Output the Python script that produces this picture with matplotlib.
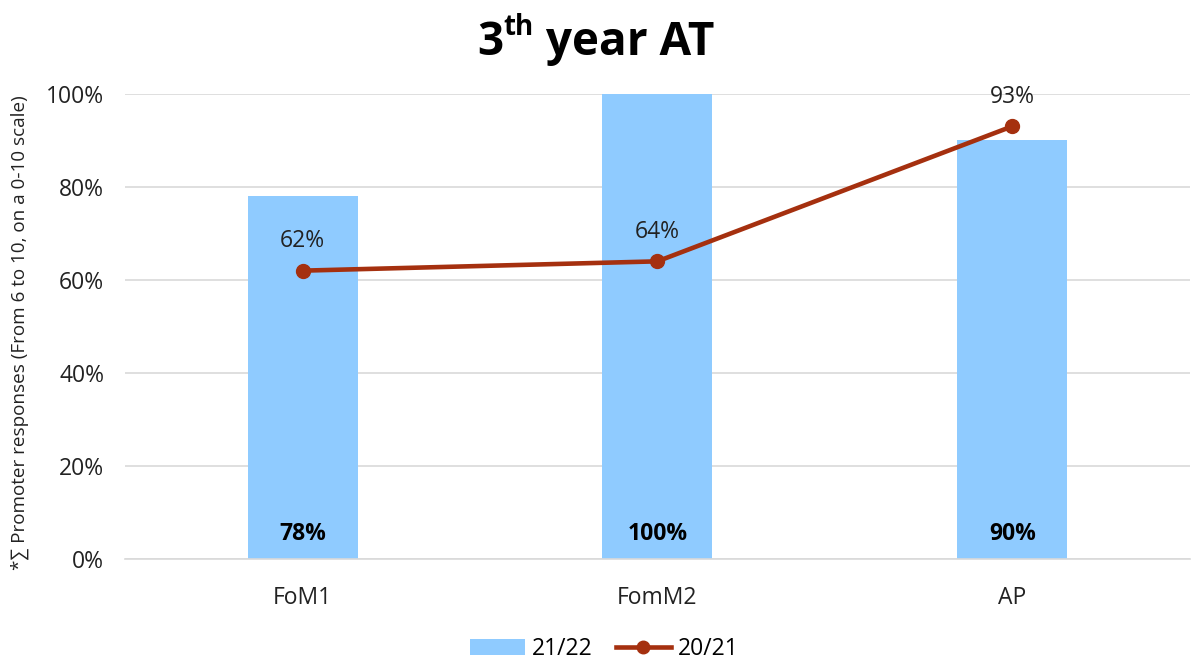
import numpy as np
import matplotlib.pyplot as plt

plt.rcParams['font.family'] = ['Open Sans', 'DejaVu Sans']

categories = ["FoM1", "FomM2", "AP"]
bars_2122 = [78, 100, 90]
line_2021 = [62, 64, 93]
yticks = [0, 20, 40, 60, 80, 100]

bar_color = "#8FCBFF"
line_color = "#A5300F"
fs = 16.5

fig = plt.figure(figsize=(11.92, 6.65), dpi=100)
ax = fig.add_axes([0.105, 0.159, 0.893, 0.700])

x = np.arange(len(categories))
ax.bar(x, bars_2122, width=0.31, color=bar_color, label="21/22", zorder=2)
ax.plot(x, line_2021, color=line_color, lw=3.3, marker="o", ms=10,
        label="20/21", zorder=3)

for xi, v in zip(x, bars_2122):
    ax.text(xi, 5.5, f"{v}%", ha="center", va="center", fontsize=fs,
            fontweight="bold", color="black", zorder=4)
for xi, v in zip(x, line_2021):
    ax.annotate(f"{v}%", (xi, v), xytext=(0, 21), textcoords="offset points",
                ha="center", va="center", fontsize=fs, color="#222222", zorder=4)

ax.set_xlim(-0.5, len(categories) - 0.5)
ax.set_ylim(0, 100)
ax.set_yticks(yticks)
ax.set_yticklabels([f"{t}%" for t in yticks], fontsize=fs)
ax.set_xticks(x)
ax.set_xticklabels(categories, fontsize=fs)
ax.tick_params(axis="y", length=0, pad=15, colors="#222222")
ax.tick_params(axis="x", length=0, pad=19, colors="#222222")
ax.grid(axis="y", color="#D9D9D9", lw=1.2, zorder=0)
for s in ["top", "right", "left"]:
    ax.spines[s].set_visible(False)
ax.spines["bottom"].set_color("#D9D9D9")
ax.spines["bottom"].set_linewidth(1.2)

ax.set_ylabel("*∑ Promoter responses (From 6 to 10, on a 0-10 scale)",
              fontsize=13.6, color="#222222")
ax.yaxis.set_label_coords(-0.09, 0.486)

handles, labels = ax.get_legend_handles_labels()
order = [labels.index("21/22"), labels.index("20/21")]
ax.legend([handles[i] for i in order], [labels[i] for i in order],
          loc="center", bbox_to_anchor=(0.45, -0.192), ncol=2,
          frameon=False, fontsize=fs, handlelength=2.4, columnspacing=1.0,
          handletextpad=0.3, markerscale=0.9)

# title with superscript
fig.canvas.draw()
r = fig.canvas.get_renderer()
ty = 0.918
t1 = fig.text(0, ty, "3", fontsize=33, fontweight="bold", va="baseline")
t2 = fig.text(0, ty, "th", fontsize=20, fontweight="bold", va="baseline")
t3 = fig.text(0, ty, " year AT", fontsize=33, fontweight="bold", va="baseline")
w = [t.get_window_extent(r).width / fig.bbox.width for t in (t1, t2, t3)]
x0 = 0.5 - sum(w) / 2 + 0.0
t1.set_x(x0)
t2.set_x(x0 + w[0])
t2.set_y(ty + 0.03)
t3.set_x(x0 + w[0] + w[1])

fig.savefig("out.png", dpi=100)
